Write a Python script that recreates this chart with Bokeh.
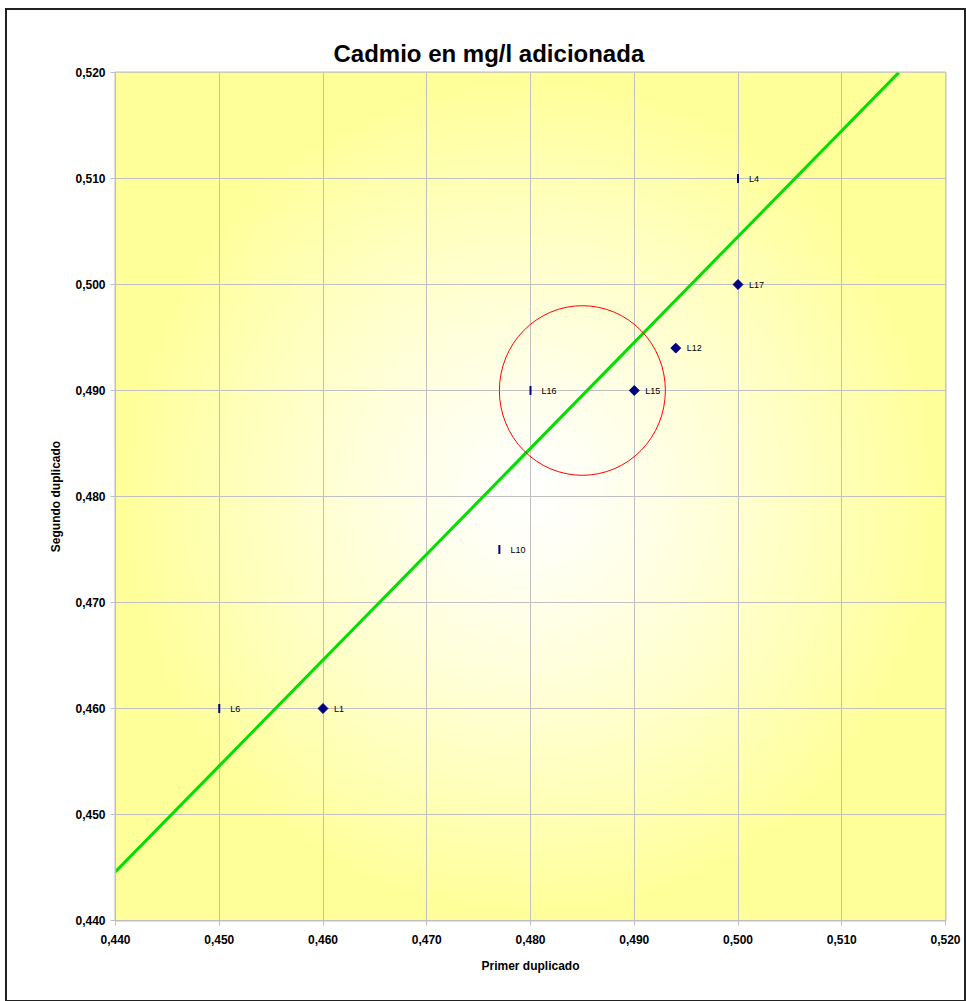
import numpy as np
from bokeh.plotting import figure
from bokeh.models import FixedTicker, CustomJSTickFormatter, Range1d
from bokeh.embed import file_html
from bokeh.resources import INLINE
from bokeh.core.properties import value

# ---------------- data ----------------
title_text = "Cadmio en mg/l adicionada"
x_label = "Primer duplicado"
y_label = "Segundo duplicado"
tick_values = [0.440, 0.450, 0.460, 0.470, 0.480, 0.490, 0.500, 0.510, 0.520]

# series drawn with diamonds
diamond_labels = ["L17", "L12", "L15", "L1"]
diamond_x = [0.500, 0.494, 0.490, 0.460]
diamond_y = [0.500, 0.494, 0.490, 0.460]

# series drawn with vertical dashes
dash_labels = ["L4", "L16", "L10", "L6"]
dash_x = [0.500, 0.480, 0.477, 0.450]
dash_y = [0.510, 0.490, 0.475, 0.460]

# reference (green) line
line_x = [0.440, 0.5155]
line_y = [0.4446, 0.520]

# red circle
circle_x = [0.485]
circle_y = [0.490]
circle_d = [0.016]

FONT = "Liberation Sans"

p = figure(
    width=957, height=990,
    x_range=Range1d(0.44, 0.52), y_range=Range1d(0.44, 0.52),
    output_backend="svg", toolbar_location=None,
    min_border_left=108, min_border_right=19,
    min_border_top=62, min_border_bottom=80,
    title=title_text,
)
p.styles = {"outline": "2px solid #222222",
            "margin-left": "7px", "margin-top": "10px"}

p.title.align = "left"
p.title.offset = 218
p.title.text_font = FONT
p.title.text_font_size = "24px"
p.title.text_font_style = "bold"
p.title.text_color = "black"
p.title.standoff = 11

p.background_fill_color = "white"
p.border_fill_color = "white"
p.outline_line_color = "#BEBEBE"
p.outline_line_width = 2

# background gradient (white centre to yellow edges)
nx = ny = 240
gx = np.linspace(-1, 1, nx)
gy = np.linspace(-1, 1, ny)
GX, GY = np.meshgrid(gx, gy)
t = np.clip(np.sqrt(GX ** 2 + GY ** 2), 0, 1) ** 1.2
img = np.empty((ny, nx), dtype=np.uint32)
view = img.view(dtype=np.uint8).reshape((ny, nx, 4))
view[:, :, 0] = 255
view[:, :, 1] = 255
view[:, :, 2] = (255 - (255 - 153) * t).astype(np.uint8)
view[:, :, 3] = 255
p.image_rgba(image=[img], x=0.44, y=0.44, dw=0.08, dh=0.08, level="image")

# grid
for g in (p.xgrid, p.ygrid):
    g.grid_line_color = "#C0C0C0"
    g.grid_line_width = 1
    g.ticker = FixedTicker(ticks=tick_values)

fmt = CustomJSTickFormatter(code="return tick.toFixed(3).replace('.', ',');")
for ax in (p.xaxis[0], p.yaxis[0]):
    ax.ticker = FixedTicker(ticks=tick_values)
    ax.formatter = fmt
    ax.axis_line_color = "#BEBEBE"
    ax.major_tick_line_color = "#BEBEBE"
    ax.major_tick_out = 5
    ax.major_tick_in = 0
    ax.minor_tick_line_color = None
    ax.major_label_text_font = FONT
    ax.major_label_text_font_size = "12px"
    ax.major_label_text_font_style = "bold"
    ax.major_label_text_color = "black"
    ax.axis_label_text_font = FONT
    ax.axis_label_text_font_size = "12px"
    ax.axis_label_text_font_style = "bold"
    ax.axis_label_text_color = "black"

p.xaxis.axis_label = x_label
p.yaxis.axis_label = y_label
p.xaxis.major_label_standoff = 9
p.xaxis.axis_label_standoff = 12
p.yaxis.major_label_standoff = 5
p.yaxis.axis_label_standoff = 9
p.yaxis.major_label_orientation = "horizontal"

# green line
p.line(line_x, line_y, line_color="#00E000", line_width=3)

# red circle
p.ellipse(x=circle_x, y=circle_y, width=circle_d, height=circle_d,
          fill_color=None, line_color="#FF0000", line_width=1)

# points
p.scatter(diamond_x, diamond_y, marker="square", angle=np.pi / 4, size=7,
          fill_color="#000080", line_color="#000080")
p.scatter(dash_x, dash_y, marker="dash", angle=np.pi / 2, size=9,
          line_color="#000080", line_width=2)

# labels
p.text(x=diamond_x + dash_x, y=diamond_y + dash_y, text=diamond_labels + dash_labels,
       x_offset=11, text_baseline="middle", text_align="left",
       text_font=value(FONT), text_font_size="9px", text_color="black")

open("out.html", "w").write(file_html(p, INLINE))
